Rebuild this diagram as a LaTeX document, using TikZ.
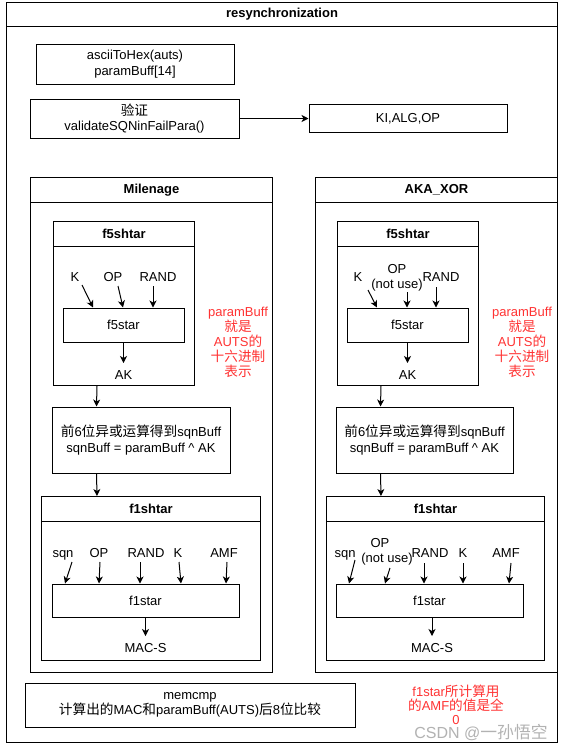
\documentclass[tikz,border=0pt]{standalone}
\usepackage{fontspec}
\setmainfont{Liberation Sans}
\newfontfamily\cjk[Scale=1.05]{Noto Sans CJK SC}
\usetikzlibrary{arrows.meta}
\newcommand{\zh}[1]{{\cjk #1}}
\definecolor{redtxt}{HTML}{FF3333}
\begin{document}
\begin{tikzpicture}[x=1pt,y=-1pt,
  every node/.style={font=\fontsize{13}{15.5}\selectfont},
  box/.style={draw, line width=1pt, align=center, inner sep=0pt},
  frame/.style={draw, line width=1pt, anchor=north west, inner sep=0pt},
  ttl/.style={draw, line width=1pt, anchor=north west, inner sep=0pt, font=\fontsize{13}{15.5}\selectfont\bfseries},
  lbl/.style={inner sep=1pt, anchor=base},
  note/.style={text=redtxt, align=center, font=\fontsize{13}{15}\selectfont},
  arr/.style={line width=1pt, -{Stealth[length=7pt,width=7pt,inset=2pt]}}]
\useasboundingbox (0,0) rectangle (564,748);
\fill[white] (0,0) rectangle (564,748);

% outer frame
\node[frame, minimum width=551pt, minimum height=740pt] (outer) at (6,2) {};
\node[ttl, minimum width=551pt, minimum height=24pt] (outerT) at (6,2) {resynchronization};

\node[box, minimum width=198pt, minimum height=40pt] (ascii) at (135,64) {asciiToHex(auts)\\paramBuff[14]};
\node[box, minimum width=209pt, minimum height=39pt] (val) at (134.5,118.5) {\zh{验证}\\validateSQNinFailPara()};
\node[box, minimum width=198pt, minimum height=28pt] (kao) at (408,118.5) {KI,ALG,OP};
\draw[arr] (val) -- (kao);

% ---------------- Milenage ----------------
\node[frame, minimum width=242pt, minimum height=495pt] (mil) at (30,177) {};
\node[ttl, minimum width=242pt, minimum height=25pt] (milT) at (30,177) {Milenage};

\node[frame, minimum width=141pt, minimum height=164pt] (f5a) at (53,221) {};
\node[ttl, minimum width=141pt, minimum height=25pt] (f5aT) at (53,221) {f5shtar};
\node[box, minimum width=121pt, minimum height=34pt] (f5am) at (123.5,325) {f5star};
\node[lbl] (aK) at (75,281) {K};
\node[lbl] (aOP) at (113,281) {OP};
\node[lbl] (aRAND) at (158,281) {RAND};
\node[lbl] (aAK) at (123.5,379) {AK};
\draw[arr] ([shift={(7pt,-4pt)}]aK.base) -- ([xshift=-30.5pt]f5am.north);
\draw[arr] ([shift={(5pt,-5pt)}]aOP.base) -- ([xshift=-0.5pt]f5am.north);
\draw[arr] ([shift={(-5pt,-5pt)}]aRAND.base) -- ([xshift=29.5pt]f5am.north);
\draw[arr] (f5am.south) -- ([yshift=16pt]aAK.base);

\node[box, minimum width=178pt, minimum height=66pt] (xorA) at (141,440)
  {\zh{前}6\zh{位异或运算得到}sqnBuff\\sqnBuff = paramBuff \textasciicircum{} AK};
\draw[arr] ([xshift=44pt]f5a.south west) -- ([xshift=45pt]xorA.north west);

\node[frame, minimum width=219pt, minimum height=164pt] (f1a) at (41,496) {};
\node[ttl, minimum width=219pt, minimum height=25pt] (f1aT) at (41,496) {f1shtar};
\draw[arr] ([xshift=45pt]xorA.south west) -- ([xshift=56pt]f1a.north west);
\node[box, minimum width=187pt, minimum height=33pt] (f1am) at (145.5,600.5) {f1star};
\node[lbl] (asqn) at (63,557) {sqn};
\node[lbl] (aOP2) at (99,557) {OP};
\node[lbl] (aRAND2) at (146,557) {RAND};
\node[lbl] (aK2) at (178,557) {K};
\node[lbl] (aAMF) at (224,557) {AMF};
\node[lbl] (aMAC) at (145.5,652) {MAC-S};
\draw[arr] ([shift={(9pt,-5pt)}]asqn.base) -- ([xshift=-80.5pt]f1am.north);
\draw[arr] ([shift={(1pt,-5pt)}]aOP2.base) -- ([xshift=-46.5pt]f1am.north);
\draw[arr] ([shift={(-6pt,-5pt)}]aRAND2.base) -- ([xshift=-5.5pt]f1am.north);
\draw[arr] ([shift={(1pt,-5pt)}]aK2.base) -- ([xshift=35.5pt]f1am.north);
\draw[arr] ([shift={(3pt,-5pt)}]aAMF.base) -- ([xshift=80.5pt]f1am.north);
\draw[arr] (f1am.south) -- ([yshift=16pt]aMAC.base);

\node[note] (noteA) at (238,342) {paramBuff\\\zh{就是}\\AUTS\zh{的}\\\zh{十六进制}\\\zh{表示}};

% ---------------- AKA_XOR ----------------
\node[frame, minimum width=242pt, minimum height=495pt] (aka) at (315,177) {};
\node[ttl, minimum width=242pt, minimum height=25pt] (akaT) at (315,177) {AKA\_XOR};

\node[frame, minimum width=141pt, minimum height=164pt] (f5b) at (337,221) {};
\node[ttl, minimum width=141pt, minimum height=25pt] (f5bT) at (337,221) {f5shtar};
\node[box, minimum width=121pt, minimum height=34pt] (f5bm) at (407.5,325) {f5star};
\node[lbl] (bK) at (358,281) {K};
\node[lbl] (bOP) at (397,273) {OP};
\node[lbl] (bNU) at (397,288) {(not use)};
\node[lbl] (bRAND) at (441,281) {RAND};
\node[lbl] (bAK) at (407.5,379) {AK};
\draw[arr] ([shift={(10pt,-9pt)}]bK.base) -- ([xshift=-30.5pt]f5bm.north);
\draw[arr] ([shift={(10pt,-4pt)}]bNU.base) -- ([xshift=-0.5pt]f5bm.north);
\draw[arr] ([shift={(-5pt,-6pt)}]bRAND.base) -- ([xshift=28.5pt]f5bm.north);
\draw[arr] (f5bm.south) -- ([yshift=16pt]bAK.base);

\node[box, minimum width=177pt, minimum height=66pt] (xorB) at (424.5,440)
  {\zh{前}6\zh{位异或运算得到}sqnBuff\\sqnBuff = paramBuff \textasciicircum{} AK};
\draw[arr] ([xshift=44pt]f5b.south west) -- ([xshift=45pt]xorB.north west);

\node[frame, minimum width=218pt, minimum height=164pt] (f1b) at (326,496) {};
\node[ttl, minimum width=218pt, minimum height=25pt] (f1bT) at (326,496) {f1shtar};
\draw[arr] ([xshift=45pt]xorB.south west) -- ([xshift=55pt]f1b.north west);
\node[box, minimum width=187pt, minimum height=33pt] (f1bm) at (429.5,600.5) {f1star};
\node[lbl] (bsqn) at (345,557) {sqn};
\node[lbl] (bOP2) at (380,547) {OP};
\node[lbl] (bNU2) at (387,562) {(not use)};
\node[lbl] (bRAND2) at (430,557) {RAND};
\node[lbl] (bK2) at (463,557) {K};
\node[lbl] (bAMF) at (506,557) {AMF};
\node[lbl] (bMAC) at (432,652) {MAC-S};
\draw[arr] ([shift={(10pt,-3pt)}]bsqn.base) -- ([xshift=-80.5pt]f1bm.north);
\draw[arr] ([shift={(3pt,-6pt)}]bNU2.base) -- ([xshift=-44.5pt]f1bm.north);
\draw[arr] ([shift={(-6pt,-6pt)}]bRAND2.base) -- ([xshift=-5.5pt]f1bm.north);
\draw[arr] ([shift={(0pt,-6pt)}]bK2.base) -- ([xshift=33.5pt]f1bm.north);
\draw[arr] ([shift={(5pt,-6pt)}]bAMF.base) -- ([xshift=79.5pt]f1bm.north);
\draw[arr] ([xshift=2.5pt]f1bm.south) -- ([yshift=16pt]bMAC.base);

\node[note] (noteB) at (522,342) {paramBuff\\\zh{就是}\\AUTS\zh{的}\\\zh{十六进制}\\\zh{表示}};

% ---------------- bottom ----------------
\node[box, minimum width=330pt, minimum height=44pt] (cmp) at (190,705)
  {memcmp\\\zh{计算出的}MAC\zh{和}paramBuff(AUTS)\zh{后}8\zh{位比较}};
\node[note, font=\fontsize{13}{14}\selectfont] (noteC) at (456,705) {f1star\zh{所计算用}\\\zh{的}AMF\zh{的值是全}\\0};
\node[text=gray!60, font=\fontsize{16}{18}\selectfont] (wm) at (481,732) {CSDN @\zh{一孙悟空}};
\end{tikzpicture}
\end{document}
